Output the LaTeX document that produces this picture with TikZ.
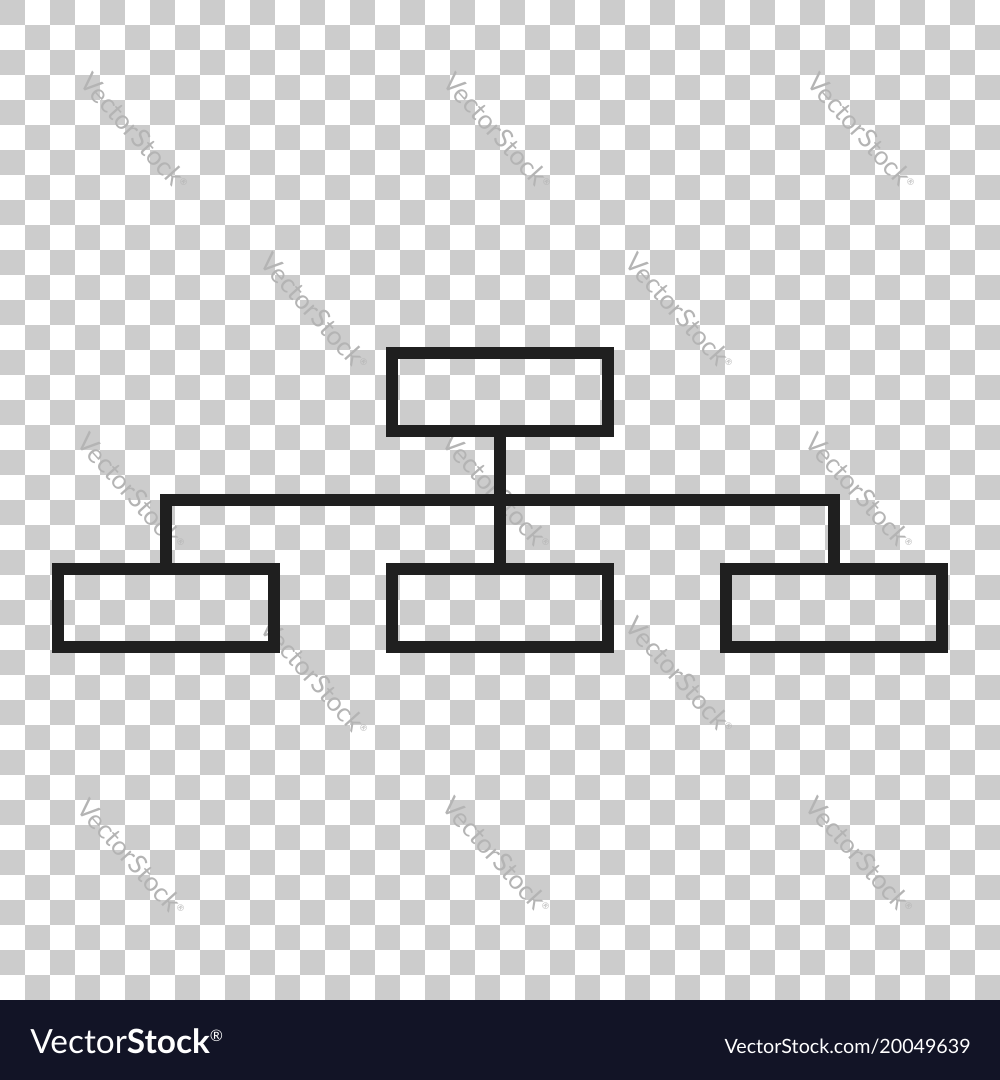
\documentclass[tikz,border=0pt]{standalone}
\usepackage{fontspec}
\setmainfont{Lato}
\definecolor{chk}{HTML}{CCCCCC}
\definecolor{ink}{HTML}{1F1F1F}
\definecolor{bar}{HTML}{121426}
\definecolor{wm}{HTML}{B4B4B4}
\tikzset{
  orgbox/.style={draw=ink, line width=0.24cm, minimum width=4.32cm, minimum height=1.56cm, inner sep=0pt},
  conn/.style={draw=ink, line width=0.24cm, line join=miter},
  wmtext/.style={text=wm, rotate=-48, inner sep=0pt, font=\fontsize{15}{15}\selectfont},
}
\begin{document}
\begin{tikzpicture}[x=0.02cm, y=-0.02cm]
\useasboundingbox (0,0) rectangle (1000,1080);
% checkerboard
\fill[white] (0,0) rectangle (1000,1000);
\foreach \i in {0,...,39}{
  \pgfmathtruncatemacro\off{mod(\i,2)}
  \foreach \j in {0,...,19}{
    \pgfmathtruncatemacro\row{2*\j+\off}
    \fill[chk] (\i*25,\row*25) rectangle ++(25,25);
  }
}
% watermarks
\foreach \wx/\wy [count=\k] in {135/132, 498/132, 862/132, 315/312, 680/312, 132/492, 497/492, 860/492, 315/678, 680/676, 132/858, 497/856, 860/856}{
  \node[wmtext] (wm\k) at (\wx,\wy) {VectorStock\textsuperscript{\tiny\textregistered}};
}
% hierarchy
\node[orgbox] (top) at (500,392) {};
\node[orgbox] (left) at (166,607.5) {};
\node[orgbox] (mid) at (500,607.5) {};
\node[orgbox] (right) at (834,607.5) {};
\coordinate (hub) at (500,500);
\draw[conn] (top.south) -- (mid.north);
\draw[conn] (left.north) -- (left.north |- hub) -- (right.north |- hub) -- (right.north);
% bottom bar
\fill[bar] (0,1000) rectangle (1000,1080);
\node[anchor=base west, text=white, inner sep=0pt, font=\fontsize{19}{19}\selectfont] (logo) at (30,1053) {Vector\textbf{Stock}\textsuperscript{\fontsize{9}{9}\selectfont\textregistered}};
\node[anchor=base east, text=white, inner sep=0pt, font=\fontsize{11.2}{11.2}\selectfont] (url) at (971,1053) {VectorStock.com/20049639};
\end{tikzpicture}
\end{document}
